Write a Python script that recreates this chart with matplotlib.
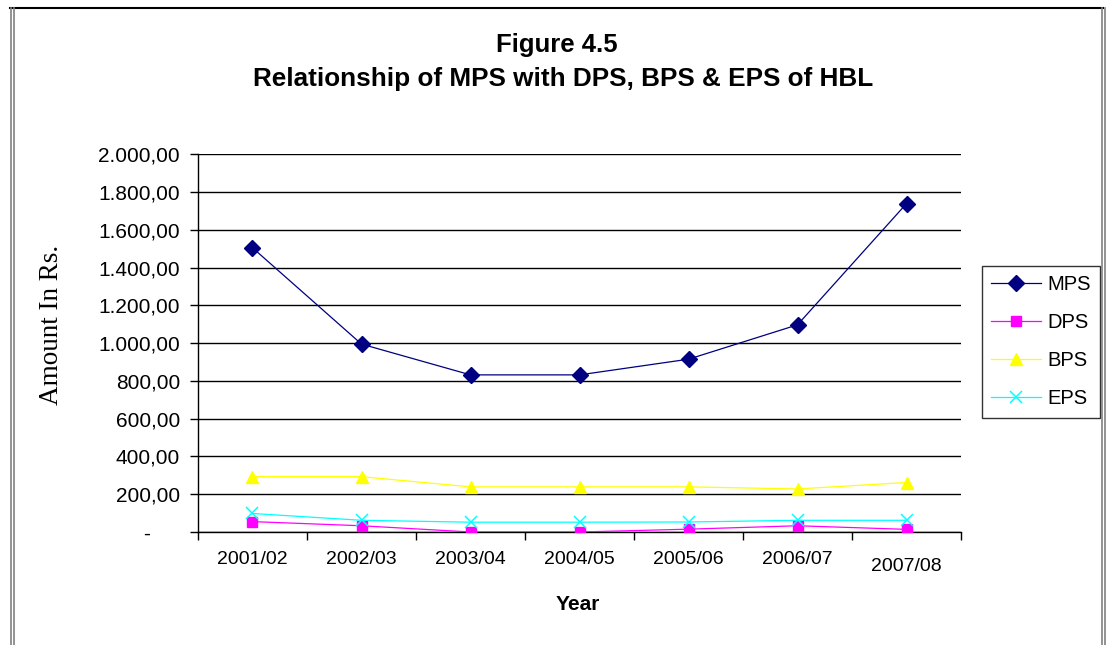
import matplotlib
matplotlib.use("Agg")
import matplotlib.pyplot as plt
from matplotlib.lines import Line2D
from matplotlib.ticker import FuncFormatter, FixedLocator
import matplotlib.transforms as mtransforms

years = ["2001/02", "2002/03", "2003/04", "2004/05", "2005/06", "2006/07", "2007/08"]
mps = [1505, 995, 832, 832, 915, 1097, 1739]
dps = [55, 33, 0, 0, 15, 33, 14]
bps = [293, 293, 239, 239, 239, 228, 262]
eps = [98, 62, 52, 52, 53, 62, 62]

W, H = 1106, 645
fig = plt.figure(figsize=(W / 100, H / 100), dpi=100)
fig.patch.set_facecolor("white")

# outer chart border
def fl(x0, y0, x1, y1, color, lw):
    fig.add_artist(Line2D([x0 / W, x1 / W], [1 - y0 / H, 1 - y1 / H],
                          color=color, lw=lw, transform=fig.transFigure))

fl(10, 8, 1103, 8, "black", 1.5)
fl(10.5, 8, 10.5, 645, "#808080", 1.2)
fl(14, 8, 14, 645, "#808080", 1.2)
fl(1102, 8, 1102, 645, "#808080", 1.2)
fl(1104.5, 8, 1104.5, 645, "#808080", 1.2)

left, right, top, bottom = 198, 961, 154.3, 532
ax = fig.add_axes([left / W, 1 - bottom / H, (right - left) / W, (bottom - top) / H])

x = list(range(len(years)))
ax.plot(x, mps, color="#000080", lw=0.9, marker="D", markersize=8, label="MPS", zorder=5)
ax.plot(x, dps, color="#FF00FF", lw=0.9, marker="s", markersize=7.5, label="DPS", zorder=4)
ax.plot(x, bps, color="#FFFF00", lw=0.9, marker="^", markersize=9, label="BPS", zorder=4)
ax.plot(x, eps, color="#00FFFF", lw=0.9, marker="x", markersize=9, markeredgewidth=1.1,
        label="EPS", zorder=4)

ax.set_xlim(-0.5, len(years) - 0.5)
ax.set_ylim(0, 2000)
ax.set_yticks(range(0, 2001, 200))

def yfmt(v, pos):
    if v == 0:
        return "-"
    s = f"{int(v):,}".replace(",", ".")
    return s + ",00"

ax.yaxis.set_major_formatter(FuncFormatter(yfmt))
ax.grid(axis="y", color="black", lw=1.0)
ax.set_axisbelow(True)

ax.set_xticks(x)
ax.set_xticklabels(years)
ax.xaxis.set_minor_locator(FixedLocator([i - 0.5 for i in range(len(years) + 1)]))
ax.tick_params(axis="x", which="major", length=0, pad=14, labelsize=14)
ax.tick_params(axis="x", which="minor", length=6, width=1, color="black", direction="out")
ax.tick_params(axis="y", length=6, width=1, direction="out", pad=7, labelsize=15)

for s in ["top", "right"]:
    ax.spines[s].set_visible(False)
ax.spines["left"].set_color("#000000")
ax.spines["bottom"].set_color("#000000")
ax.spines["left"].set_linewidth(1.0)
ax.spines["bottom"].set_linewidth(1.0)

# last label sits slightly lower in the original
lbl = ax.get_xticklabels()[-1]
lbl.set_transform(lbl.get_transform() + mtransforms.ScaledTranslation(0, -7 / 100, fig.dpi_scale_trans))
# zero label dash is indented
zl = ax.get_yticklabels()[0]
zl.set_transform(zl.get_transform() + mtransforms.ScaledTranslation(-30 / 100, 0, fig.dpi_scale_trans))

for t in ax.get_xticklabels() + ax.get_yticklabels():
    t.set_fontfamily("Liberation Sans")

fig.text(557 / W, 1 - 45 / H, "Figure 4.5", ha="center", va="center",
         fontsize=18.5, fontweight="bold", family="Liberation Sans")
fig.text(563 / W, 1 - 79 / H, "Relationship of MPS with DPS, BPS & EPS of HBL", ha="center",
         va="center", fontsize=18.8, fontweight="bold", family="Liberation Sans")
fig.text(578 / W, 1 - 604 / H, "Year", ha="center", va="center",
         fontsize=15, fontweight="bold", family="Liberation Sans")
fig.text(52 / W, 1 - 325 / H, "Amount In Rs.", ha="center", va="center", rotation=90,
         fontsize=19.5, family="Liberation Serif")

leg = ax.legend(loc="upper left", bbox_to_anchor=(982 / W, 1 - 266 / H),
                bbox_transform=fig.transFigure, frameon=True, fancybox=False,
                edgecolor="black", prop={"family": "Liberation Sans", "size": 14.5},
                handlelength=2.5, handletextpad=0.3, labelspacing=0.95, borderpad=0.45,
                borderaxespad=0)
leg.get_frame().set_linewidth(1.0)

fig.savefig("out.png", dpi=100, facecolor="white")
